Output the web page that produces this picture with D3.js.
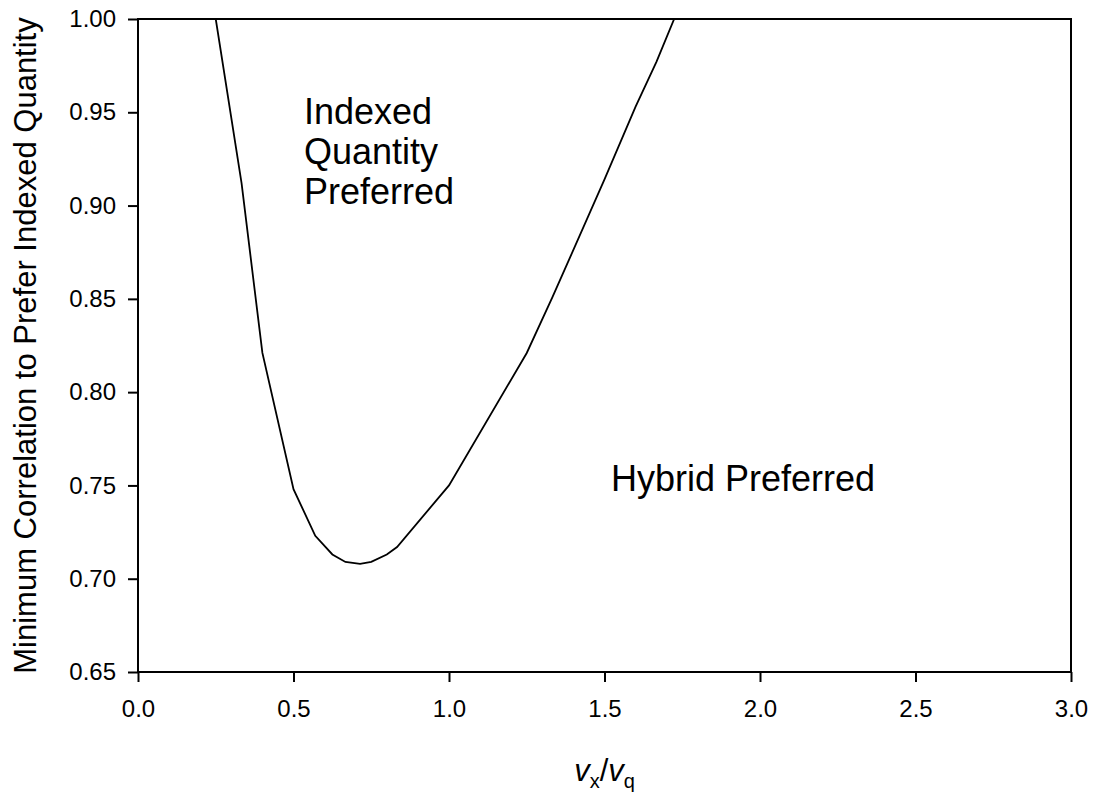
<!DOCTYPE html>
<html>
<head>
<meta charset="utf-8">
<script src="https://cdn.jsdelivr.net/npm/d3@7"></script>
<style>
  html, body { margin: 0; padding: 0; background: #fff; }
  svg { display: block; }
  text { font-family: "Liberation Sans", Arial, Helvetica, sans-serif; fill: #000; }
</style>
</head>
<body>
<svg id="chart" width="1094" height="792"></svg>
<script>
// ---- data ----
const ratioValues = [0.25, 0.333, 0.4, 0.5, 0.57, 0.625, 0.667, 0.714, 0.75, 0.8, 0.833, 1.0, 1.25, 1.333, 1.5, 1.6, 1.667, 1.724];
const minCorrelation = [1.00, 0.912, 0.821, 0.748, 0.723, 0.713, 0.709, 0.708, 0.709, 0.713, 0.717, 0.750, 0.821, 0.851, 0.914, 0.953, 0.977, 1.00];
const xTickValues = [0.0, 0.5, 1.0, 1.5, 2.0, 2.5, 3.0];
const yTickValues = [0.65, 0.70, 0.75, 0.80, 0.85, 0.90, 0.95, 1.00];
const yTitle = "Minimum Correlation to Prefer Indexed Quantity";
const regionUpperLines = ["Indexed", "Quantity", "Preferred"];
const regionLowerText = "Hybrid Preferred";

(function () {
const svg = d3.select("#chart");
const pLeft = 138, pRight = 1071, pTop = 19, pBottom = 672;

const x = d3.scaleLinear().domain([0, 3]).range([pLeft, pRight]);
const y = d3.scaleLinear().domain([0.65, 1.0]).range([pBottom, pTop]);

// clip
svg.append("defs").append("clipPath").attr("id", "plotclip")
  .append("rect").attr("x", pLeft).attr("y", pTop).attr("width", pRight - pLeft).attr("height", pBottom - pTop);

// curve
const pts = ratioValues.map((v, i) => [v, minCorrelation[i]]);
svg.append("path")
  .datum(pts)
  .attr("clip-path", "url(#plotclip)")
  .attr("fill", "none")
  .attr("stroke", "#000")
  .attr("stroke-width", 1.8)
  .attr("stroke-linejoin", "miter")
  .attr("d", d3.line().x(d => x(d[0])).y(d => y(d[1])).curve(d3.curveLinear));

// axes
const xAxis = d3.axisBottom(x).tickValues(xTickValues).tickFormat(d3.format(".1f"))
  .tickSizeInner(10).tickSizeOuter(0).tickPadding(18);
const yAxis = d3.axisLeft(y).tickValues(yTickValues).tickFormat(d3.format(".2f"))
  .tickSizeInner(10).tickSizeOuter(0).tickPadding(12);

const gx = svg.append("g").attr("transform", `translate(0,${pBottom})`).call(xAxis);
const gy = svg.append("g").attr("transform", `translate(${pLeft},0)`).call(yAxis);
[gx, gy].forEach(g => {
  g.select(".domain").remove();
  g.selectAll(".tick line").attr("stroke", "#000").attr("stroke-width", 2);
  g.selectAll(".tick text").attr("font-size", 24).attr("font-family", "Liberation Sans, Arial, sans-serif").attr("fill", "#000");
});

// frame
svg.append("rect")
  .attr("x", pLeft).attr("y", pTop).attr("width", pRight - pLeft).attr("height", pBottom - pTop)
  .attr("fill", "none").attr("stroke", "#000").attr("stroke-width", 2);

// region labels
const up = svg.append("text").attr("font-size", 36);
regionUpperLines.forEach((t, i) => {
  up.append("tspan").attr("x", 304).attr("y", 124 + i * 40).text(t);
});
svg.append("text").attr("font-size", 36).attr("x", 611).attr("y", 491).text(regionLowerText);

// y title
svg.append("text")
  .attr("font-size", 31)
  .attr("text-anchor", "middle")
  .attr("transform", `translate(36,${(pTop + pBottom) / 2}) rotate(-90)`)
  .text(yTitle);

// x title: v_x / v_q
const xt = svg.append("text")
  .attr("font-size", 31)
  .attr("text-anchor", "middle")
  .attr("x", (pLeft + pRight) / 2)
  .attr("y", 781);
xt.append("tspan").attr("font-style", "italic").text("v");
xt.append("tspan").attr("font-size", 20).attr("dy", 7).text("x");
xt.append("tspan").attr("dy", -7).text("/");
xt.append("tspan").attr("font-style", "italic").text("v");
xt.append("tspan").attr("font-size", 20).attr("dy", 7).text("q");
})();
</script>
</body>
</html>
